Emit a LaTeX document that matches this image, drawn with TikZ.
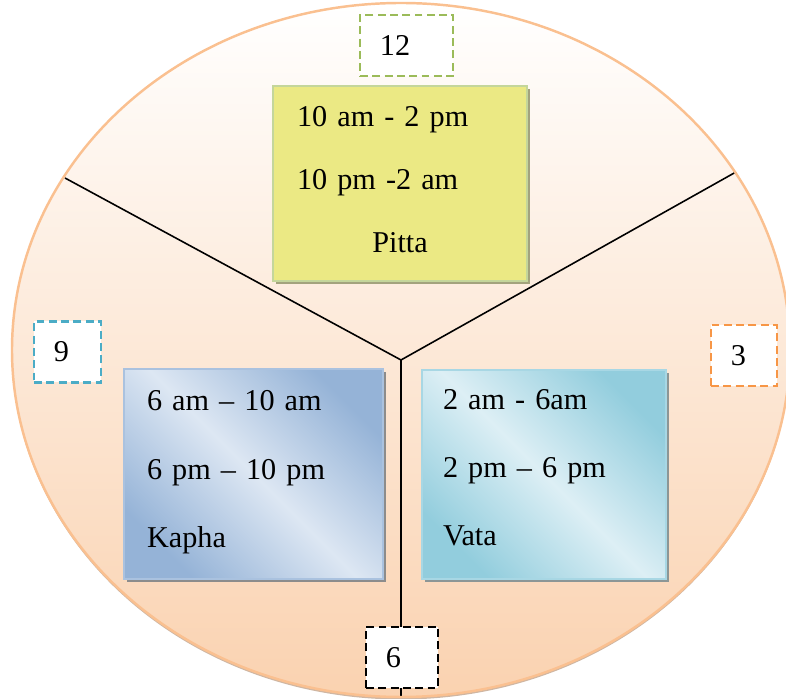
\documentclass[tikz,border=0pt]{standalone}
\usepackage{fontspec}
\setmainfont{Liberation Serif}
\usetikzlibrary{shadows}

\definecolor{rimorange}{RGB}{250,192,144}
\definecolor{peach}{RGB}{250,210,176}
\definecolor{pittafill}{RGB}{235,233,132}
\definecolor{pittaedge}{RGB}{196,214,155}
\definecolor{pittashade}{RGB}{163,163,125}
\definecolor{kaphadark}{RGB}{149,179,215}
\definecolor{kaphalight}{RGB}{221,231,243}
\definecolor{kaphashade}{RGB}{140,140,140}
\definecolor{vatadark}{RGB}{146,205,221}
\definecolor{vatalight}{RGB}{221,239,245}
\definecolor{vatashade}{RGB}{140,150,150}
\definecolor{noongreen}{RGB}{155,187,89}
\definecolor{duskblue}{RGB}{75,172,198}
\definecolor{dawnorange}{RGB}{247,150,70}

% extra depth under the last line, lifts the text block a little
\newcommand{\lift}[1]{\rule[-#1]{0pt}{0pt}}

\tikzset{
  spoke/.style={line width=0.9pt},
  dosha/.style={draw, line width=1.2pt, anchor=north west, align=left,
    drop shadow={shadow xshift=0.06cm, shadow yshift=-0.06cm, opacity=1, fill=#1}},
  hourbox/.style={draw, fill=white, line width=1.4pt, dash pattern=on 4.5pt off 2.5pt,
    align=left, inner xsep=0.4cm, minimum height=1.22cm,
    font=\fontsize{17.2}{21}\selectfont},
}

\begin{document}
\begin{tikzpicture}
\useasboundingbox (-8.02,-6.78) rectangle (7.70,7.20);

%----------------------------
% Clock face
%----------------------------
\shade[top color=white, bottom color=peach,
  drop shadow={shadow xshift=0pt, shadow yshift=-0.05cm, opacity=0.6, fill=rimorange!70!black}]
  (0,0.2) ellipse (7.78 and 6.94);

% Spokes from the hub to the rim
\coordinate (hub) at (0,0);
\coordinate (rimNW) at (-6.72,3.64);
\coordinate (rimNE) at (6.70,3.76);
\coordinate (rimS) at (0,-6.74);
\draw[spoke] (hub) -- (rimNW);
\draw[spoke] (hub) -- (rimNE);
\draw[spoke] (hub) -- (rimS);

% Rim
\draw[rimorange, line width=1.4pt] (0,0.2) ellipse (7.78 and 6.94);

%----------------------------
% Dosha boxes
%----------------------------
\node[dosha=pittashade, draw=pittaedge, fill=pittafill,
  text width=4.12cm, inner xsep=0.48cm, minimum height=3.9cm,
  font=\fontsize{17.2}{35.7}\selectfont] (pitta) at (-2.58,5.50)
  {10 am - 2 pm\\10 pm -2 am\\\makebox[\hsize]{Pitta}\lift{0.16cm}};

\node[dosha=kaphashade, draw=kaphadark!80!white,
  shading=axis, top color=kaphadark, bottom color=kaphadark, middle color=kaphalight,
  shading angle=-45,
  text width=4.26cm, inner xsep=0.46cm, minimum height=4.2cm,
  font=\fontsize{17.2}{38.8}\selectfont] (kapha) at (-5.56,-0.16)
  {6 am -- 10 am\\6 pm -- 10 pm\\Kapha\lift{0.2cm}};

\node[dosha=vatashade, draw=vatadark!80!white,
  shading=axis, top color=vatadark, bottom color=vatadark, middle color=vatalight,
  shading angle=-45,
  text width=4.04cm, inner xsep=0.42cm, minimum height=4.18cm,
  font=\fontsize{17.2}{38.8}\selectfont] (vata) at (0.40,-0.18)
  {2 am - 6am\\2 pm -- 6 pm\\Vata\lift{0.28cm}};

%----------------------------
% Hour marks
%----------------------------
\node[hourbox, draw=noongreen, text width=1.06cm] (h12) at (0.11,6.29) {12};
\node[hourbox, draw=duskblue, text width=0.54cm] (h9) at (-6.67,0.16) {9};
\node[hourbox, draw=dawnorange, text width=0.52cm] (h3) at (6.86,0.09) {3};
\node[hourbox, draw=black, text width=0.64cm] (h6) at (0.02,-5.95) {6};

\end{tikzpicture}
\end{document}
